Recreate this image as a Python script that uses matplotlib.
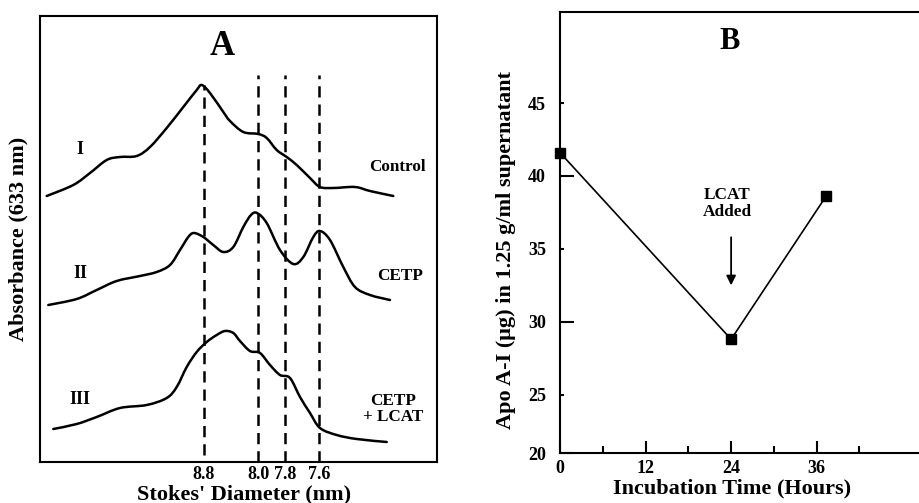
import numpy as np
import matplotlib
matplotlib.use('Agg')
import matplotlib.pyplot as plt
from matplotlib.path import Path
from matplotlib.patches import PathPatch

plt.rcParams['font.family'] = ['Liberation Serif', 'DejaVu Serif']
plt.rcParams['font.weight'] = 'bold'

# Panel A: densitometric scans (migration distance, mm ; absorbance, arbitrary units)
dist_I = [0.67, 3.33, 5.0, 6.67, 8.0, 9.67, 11.0, 12.67, 14.33, 15.67, 16.17, 17.0, 18.33,
          19.0, 20.33, 21.83, 22.67, 23.67, 24.67, 25.67, 27.0, 28.0, 29.33, 31.5, 33.0, 35.33]
abs_I = [2.66, 2.77, 2.89, 3.02, 3.05, 3.06, 3.15, 3.34, 3.55, 3.72, 3.77, 3.69, 3.50,
         3.41, 3.30, 3.28, 3.24, 3.12, 3.05, 2.97, 2.84, 2.75, 2.74, 2.75, 2.71, 2.66]

dist_II = [0.83, 3.67, 5.67, 7.67, 10.0, 11.67, 13.0, 14.0, 14.83, 15.4, 16.33, 17.33, 18.33,
           19.33, 20.33, 21.1, 21.7, 22.67, 24.0, 25.33, 26.33, 27.33, 28.0, 29.0, 30.33,
           31.5, 33.0, 35.0]
abs_II = [1.57, 1.63, 1.72, 1.81, 1.86, 1.90, 1.97, 2.12, 2.25, 2.29, 2.25, 2.17, 2.10,
          2.15, 2.35, 2.47, 2.49, 2.39, 2.12, 1.98, 2.05, 2.25, 2.31, 2.22, 1.95,
          1.75, 1.67, 1.62]

dist_III = [1.33, 3.67, 5.67, 8.0, 10.67, 12.67, 13.67, 14.67, 15.67, 16.67, 17.67, 18.5,
            19.33, 20.0, 21.0, 22.0, 23.0, 24.0, 25.0, 26.0, 27.0, 28.0, 29.67, 31.67, 34.67]
abs_III = [0.33, 0.38, 0.45, 0.54, 0.57, 0.64, 0.75, 0.95, 1.10, 1.20, 1.27, 1.31,
           1.29, 1.21, 1.11, 1.09, 0.97, 0.87, 0.84, 0.65, 0.49, 0.34, 0.27, 0.23, 0.20]

# Stokes' diameter markers (position, label)
stokes_pos = [16.4, 21.85, 24.55, 27.95]
stokes_lab = ['8.8', '8.0', '7.8', '7.6']

# Panel B: apo A-I in supernatant vs incubation time
hours = [0, 24, 37.3]
apo = [41.6, 28.8, 38.6]


def smooth_curve(ax, x, y, **kw):
    # draw a smooth line through the points (Catmull-Rom as cubic Bezier segments)
    p = np.column_stack([x, y])
    n = len(p)
    verts = [p[0]]
    codes = [Path.MOVETO]
    for i in range(n - 1):
        p0 = p[i - 1] if i > 0 else p[i]
        p1, p2 = p[i], p[i + 1]
        p3 = p[i + 2] if i + 2 < n else p[i + 1]
        verts += [p1 + (p2 - p0) / 6, p2 - (p3 - p1) / 6, p2]
        codes += [Path.CURVE4] * 3
    ax.add_patch(PathPatch(Path(verts, codes), fill=False, **kw))


fig = plt.figure(figsize=(9.2, 5.03), dpi=100)

# ---------------- Panel A ----------------
ax = fig.add_axes([40/920, 41/503, 397/920, 446/503])
for xs, ys in [(dist_I, abs_I), (dist_II, abs_II), (dist_III, abs_III)]:
    smooth_curve(ax, xs, ys, edgecolor='black', lw=1.8, joinstyle='round', capstyle='round')

for i, x in enumerate(stokes_pos):
    top = max(abs_I) if i == 0 else 3.87
    bot = 0.07 if i == 0 else 0.0
    ax.plot([x, x], [bot, top], color='black', lw=1.8, dashes=(4.5, 2.8))

ax.set_xlim(0, 39.7)
ax.set_ylim(0, 4.46)
ax.set_xticks(stokes_pos)
ax.set_xticklabels(stokes_lab, fontsize=13, fontweight='bold')
ax.tick_params(axis='x', length=0, pad=3)
ax.set_yticks([])
for s in ax.spines.values():
    s.set_linewidth(1.5)

ax.text(18.2, 4.15, 'A', fontsize=25, fontweight='bold', ha='center', va='center')
ax.text(4.0, 3.13, 'I', fontsize=13, fontweight='bold', ha='center', va='center')
ax.text(4.0, 1.88, 'II', fontsize=13, fontweight='bold', ha='center', va='center')
ax.text(4.0, 0.63, 'III', fontsize=13, fontweight='bold', ha='center', va='center')
ax.text(35.7, 2.95, 'Control', fontsize=12.3, fontweight='bold', ha='center', va='center')
ax.text(36.0, 1.86, 'CETP', fontsize=12.3, fontweight='bold', ha='center', va='center')
ax.text(35.3, 0.53, 'CETP\n+ LCAT', fontsize=12.3, fontweight='bold', ha='center',
        va='center', linespacing=1.05)

ax.set_xlabel("Stokes' Diameter (nm)", fontsize=16, fontweight='bold')
ax.xaxis.set_label_coords(0.514, -0.05)
ax.set_ylabel('Absorbance (633 nm)', fontsize=16, fontweight='bold')
ax.yaxis.set_label_coords(-0.028, 0.5)

# ---------------- Panel B ----------------
bx = fig.add_axes([560/920, 50/503, 400/920, 441/503])
bx.plot(hours, apo, color='black', lw=1.2, marker='s', markersize=7, clip_on=False)
bx.annotate('', xy=(24.0, 32.5), xytext=(24.0, 35.8),
            arrowprops=dict(arrowstyle='-|>', color='black', lw=1.3,
                            mutation_scale=14, shrinkA=0, shrinkB=0))
bx.text(23.5, 38.1, 'LCAT\nAdded', fontsize=12.4, fontweight='bold', ha='center',
        va='center', linespacing=1.05)
bx.text(23.8, 49.2, 'B', fontsize=22, fontweight='bold', ha='center', va='center')

bx.set_xlim(0, 400/7.13)
bx.set_ylim(21, 21 + 441/14.58)
bx.set_xticks([0, 12, 24, 36])
bx.set_xticks([6, 18, 30, 42], minor=True)
bx.set_xticklabels(['0', '12', '24', '36'], fontsize=13, fontweight='bold')
bx.set_yticks([21, 30, 40])
bx.set_yticklabels(['20', '30', '40'], fontsize=13, fontweight='bold')
bx.set_yticks([25, 35, 45], minor=True)
bx.set_yticklabels(['25', '35', '45'], minor=True, fontsize=13, fontweight='bold')
bx.tick_params(axis='x', which='major', direction='in', length=9, width=1.5, pad=5)
bx.tick_params(axis='x', which='minor', direction='in', length=5, width=1.5)
bx.tick_params(axis='y', which='major', direction='in', length=10, width=1.5, pad=10)
bx.tick_params(axis='y', which='minor', direction='in', length=3, width=1.5, pad=10)
bx.spines['right'].set_visible(False)
for s in bx.spines.values():
    s.set_linewidth(1.5)

bx.set_xlabel('Incubation Time (Hours)', fontsize=16, fontweight='bold')
bx.xaxis.set_label_coords(0.43, -0.057)
bx.set_ylabel('Apo A-I (\u03bcg) in 1.25 g/ml supernatant', fontsize=16, fontweight='bold')
bx.yaxis.set_label_coords(-0.11, 0.46)

fig.savefig('out.png', dpi=100)
